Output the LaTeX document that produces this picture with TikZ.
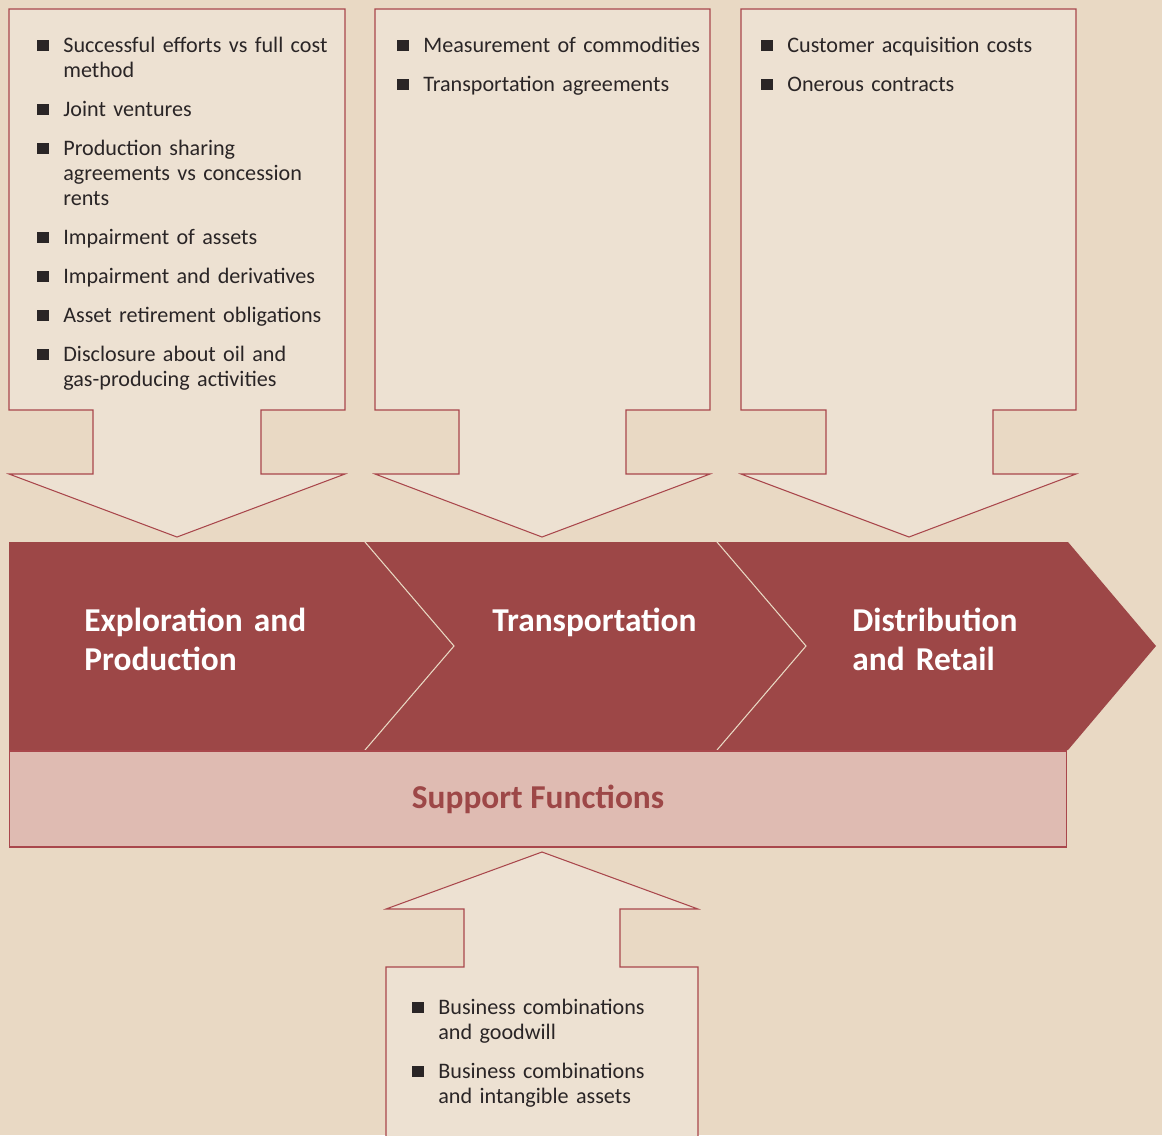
\documentclass[tikz,border=0pt]{standalone}
\usepackage{fontspec}
\setmainfont{Carlito}
\usetikzlibrary{positioning}
\definecolor{pagebeige}{HTML}{E9D9C4}
\definecolor{boxbeige}{HTML}{EDE1D2}
\definecolor{chainred}{HTML}{9D4747}
\definecolor{chainborder}{HTML}{A9474C}
\definecolor{supportpink}{HTML}{DFBBB2}
\definecolor{inkdark}{HTML}{2A2526}

\newcommand{\sqitem}[1]{\par\noindent\hangindent=0.52cm\hangafter=1%
  \makebox[0.52cm][l]{\raisebox{0.8pt}{\rule{6.4pt}{6.4pt}}}#1\par\vspace{0.28cm}}

\begin{document}
\begin{tikzpicture}[
      x=0.02cm, y=-0.02cm,
      arrowbox/.style={fill=boxbeige, draw=chainborder, line width=0.6pt},
      chevron/.style={draw=pagebeige, line width=0.6pt},
      itemlist/.style={anchor=north west, inner sep=0pt, text width=6.8cm,
        align=left, text=inkdark, font=\fontsize{12.6pt}{0.5cm}\selectfont},
      chainlabel/.style={anchor=north west, inner sep=0pt, text width=5cm,
        align=left, text=white, font=\fontsize{19pt}{0.78cm}\selectfont\bfseries}
    ]
      \useasboundingbox (0,0) rectangle (1162,1135);
      \fill[pagebeige] (0,0) rectangle (1162,1135);

      % issue boxes pointing down onto the chain
      \draw[arrowbox] (9,9) -- (345,9) -- (345,410) -- (261,410) -- (261,474)
        -- (345,474) -- (177,537) -- (9,474) -- (93,474) -- (93,410)
        -- (9,410) -- cycle;
      \draw[arrowbox] (375,9) -- (710,9) -- (710,410) -- (626,410) -- (626,474)
        -- (710,474) -- (542,537) -- (375,474) -- (459,474) -- (459,410)
        -- (375,410) -- cycle;
      \draw[arrowbox] (741,9) -- (1076,9) -- (1076,410) -- (993,410) -- (993,474)
        -- (1076,474) -- (909,537) -- (741,474) -- (826,474) -- (826,410)
        -- (741,410) -- cycle;

      % value chain band
      \fill[chainred] (9,542) -- (1068,542) -- (1156,646) -- (1068,750)
        -- (9,750) -- cycle;
      \draw[chevron] (365,542) -- (454,646) -- (365,750);
      \draw[chevron] (717,542) -- (806,646) -- (717,750);

      \node[chainlabel] (explore) at (84,608) {Exploration and\\Production};
      \node[chainlabel] (transport) at (492,608) {Transportation};
      \node[chainlabel] (distrib) at (852,608) {Distribution\\and Retail};

      \node[draw=chainborder, fill=supportpink, line width=0.6pt,
        minimum width=21.16cm, minimum height=1.92cm, inner sep=0pt,
        text=chainred, font=\fontsize{19pt}{23pt}\selectfont\bfseries]
        (support) at (538,799) {Support Functions};

      % issue box pointing up into the support functions
      \draw[arrowbox] (386,1136) -- (386,967) -- (464,967) -- (464,909)
        -- (386,909) -- (542,852) -- (698,909) -- (620,909) -- (620,967)
        -- (698,967) -- (698,1136);

      \node[itemlist] (upstream) at (37,27) {%
        \sqitem{Successful efforts vs full cost\newline method}
        \sqitem{Joint ventures}
        \sqitem{Production sharing\newline agreements vs concession\newline rents}
        \sqitem{Impairment of assets}
        \sqitem{Impairment and derivatives}
        \sqitem{Asset retirement obligations}
        \sqitem{Disclosure about oil and\newline gas-producing activities}};
      \node[itemlist] (midstream) at (397,27) {%
        \sqitem{Measurement of commodities}
        \sqitem{Transportation agreements}};
      \node[itemlist] (downstream) at (761,27) {%
        \sqitem{Customer acquisition costs}
        \sqitem{Onerous contracts}};
      \node[itemlist] (supportlist) at (412,989) {%
        \sqitem{Business combinations\newline and goodwill}
        \sqitem{Business combinations\newline and intangible assets}};
    \end{tikzpicture}
\end{document}
